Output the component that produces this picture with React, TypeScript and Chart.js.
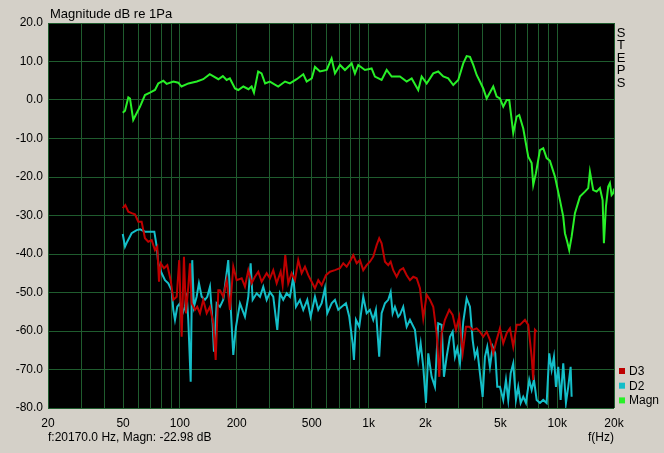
import { useEffect, useRef } from 'react';
import { Chart, registerables } from 'chart.js';

Chart.register(...registerables);

// ---------- data ----------
const GRID_FREQS = [20, 30, 40, 50, 60, 70, 80, 90, 100, 200, 300, 400, 500, 600, 700, 800, 900, 1000, 2000, 3000, 4000, 5000, 6000, 7000, 8000, 9000, 10000, 20000];
const X_LABELS: [number, string][] = [[20, '20'], [50, '50'], [100, '100'], [200, '200'], [500, '500'], [1000, '1k'], [2000, '2k'], [5000, '5k'], [10000, '10k'], [20000, '20k']];
const Y_TICKS = [-80, -70, -60, -50, -40, -30, -20, -10, 0, 10, 20];

const TITLE = 'Magnitude dB re 1Pa';
const STATUS = 'f:20170.0 Hz, Magn: -22.98 dB';
const X_UNIT = 'f(Hz)';
const SIDE_WORD = 'STEPS';
const SERIES_NAMES = ['D3', 'D2', 'Magn'];

// [frequency Hz, dB]
const MAGN: [number, number][] = [
  [49.8, -3.3], [51.2, -2.8], [53.3, 0.7], [54.4, 0.4], [56.6, -5.2], [57.8, -4.3], [61.5, -1.7], [65.3, 1.3], [69.4, 1.9], [73.8, 2.6],
  [76.8, 4.3], [81.7, 5.0], [85.1, 4.2], [92.3, 4.8], [98.1, 4.5], [102, 3.5], [111, 4.3], [123, 4.8], [133, 5.4], [144, 6.7],
  [150, 6.2], [160, 5.4], [169, 6.2], [177, 5.2], [184, 5.6], [196, 3.0], [204, 2.6], [217, 3.5], [231, 2.8], [240, 3.5],
  [247, 1.9], [260, 7.4], [271, 6.9], [283, 4.3], [300, 4.8], [332, 3.5], [361, 4.8], [383, 4.3], [416, 5.4], [451, 6.7],
  [470, 4.8], [500, 5.6], [520, 8.6], [553, 7.4], [600, 7.8], [637, 10.8], [664, 6.9], [706, 9.1], [750, 7.8], [814, 9.5],
  [847, 6.9], [882, 9.1], [957, 7.8], [1038, 8.2], [1081, 6.1], [1173, 5.2], [1248, 7.8], [1326, 6.1], [1467, 6.1], [1593, 4.8],
  [1693, 5.6], [1834, 2.6], [1912, 6.1], [2033, 4.3], [2203, 6.9], [2341, 7.4], [2489, 6.1], [2645, 5.6], [2812, 3.9], [2989, 5.2],
  [3177, 9.5], [3312, 11.4], [3448, 11.2], [3590, 9.1], [3742, 6.5], [3895, 4.8], [4055, 3.0], [4227, 0.4], [4582, 3.5], [4776, 0.9],
  [4972, 0.4], [5177, -1.7], [5396, 0], [5570, 0], [5848, -8.6], [6096, -4.3], [6292, -3.9], [6607, -7.4], [7023, -14.7], [7320, -16.4],
  [7465, -22.1], [7715, -19.0], [8100, -13.0], [8433, -12.5], [8791, -15.1], [9151, -15.8], [9727, -19.9], [10339, -26.0], [10764, -30.3], [10989, -34.6],
  [11303, -36.8], [11581, -39.0], [11925, -35.5], [12415, -29.4], [13196, -25.1], [14026, -23.8], [14603, -22.9], [14908, -18.6], [15521, -23.4], [16178, -23.8],
  [16843, -22.9], [17406, -26.0], [17685, -37.2], [18122, -27.7], [18635, -22.5], [19028, -21.6], [19427, -24.7], [19810, -24.2], [20000, -23.0],
];

const D3: [number, number][] = [
  [49.8, -28.1], [51.4, -27.3], [53.3, -29.0], [55.5, -29.4], [57.8, -29.7], [60.2, -31.6], [62.7, -31.6], [65.3, -35.9], [68.0, -36.8], [70.9, -36.4],
  [73.8, -39.0], [75.9, -38.1], [77.5, -47.2], [79.1, -42.4], [82.4, -43.7], [85.8, -42.9], [89.4, -46.8], [92.3, -51.9], [96.2, -51.1], [99.2, -41.6],
  [102.2, -61.5], [105.1, -40.7], [107.7, -55.4], [110.8, -48.5], [113.1, -42.4], [115.5, -52.8], [120.2, -54.5], [123.6, -53.7], [127.8, -55.4], [133.0, -51.9],
  [138.7, -55.4], [144.4, -53.7], [150.3, -58.0], [154.8, -67.5], [159.9, -49.4], [163.1, -49.4], [169.8, -51.1], [177.0, -46.8], [184.3, -54.5], [191.9, -43.3],
  [200.0, -46.8], [212.6, -46.3], [221.3, -48.5], [230.5, -44.2], [240.1, -47.6], [250, -45.9], [260.3, -44.6], [271.4, -47.2], [288.4, -45.0], [300.3, -46.3],
  [312.6, -44.2], [325.9, -47.6], [342.1, -44.6], [350.5, -48.1], [361.9, -40.3], [375.4, -47.6], [391.3, -45.0], [407.4, -46.8], [424.1, -41.6], [442.1, -45.0],
  [460.3, -43.3], [479.2, -45.5], [499.5, -47.2], [520, -48.9], [541.4, -46.8], [564.3, -48.1], [594.7, -45.5], [624.4, -44.6], [663.7, -44.2], [705.5, -43.7],
  [734.5, -42.4], [765.6, -43.3], [803.9, -41.6], [829.8, -40.3], [865, -42.4], [900.5, -41.6], [937.5, -44.2], [977.2, -42.9], [1017, -42.0], [1059, -40.7],
  [1104, -37.7], [1139, -35.9], [1173, -37.2], [1222, -42.0], [1272, -42.9], [1310, -42.0], [1352, -44.2], [1409, -45.9], [1467, -44.2], [1527, -43.7],
  [1593, -45.5], [1658, -46.8], [1726, -45.9], [1799, -46.3], [1873, -48.9], [1950, -56.7], [2033, -50.6], [2116, -51.9], [2203, -53.7], [2296, -60.6],
  [2371, -71.9], [2441, -60.6], [2541, -57.1], [2678, -54.5], [2791, -55.8], [2906, -59.7], [3026, -56.3], [3154, -65.8], [3284, -58.9], [3419, -58.9],
  [3563, -59.7], [3742, -59.3], [3895, -60.2], [4055, -61.5], [4227, -60.2], [4401, -62.3], [4582, -65.8], [4776, -62.3], [4972, -59.3], [5177, -63.2],
  [5396, -60.6], [5617, -59.3], [5848, -64.1], [6096, -58.4], [6346, -58.4], [6746, -57.1], [7023, -58.4], [7320, -66.7], [7465, -72.7], [7621, -59.7],
  [7781, -60.2],
];

const D2: [number, number][] = [
  [49.8, -34.8], [51.2, -38.1], [52.6, -36.8], [55.5, -34.6], [59.0, -33.8], [61.5, -33.6], [65.3, -34.2], [69.4, -34.2], [73.2, -34.2], [75.4, -38.1],
  [76.8, -42.4], [80.1, -45.0], [83.4, -46.8], [86.8, -47.6], [90.5, -49.4], [92.3, -54.5], [94.2, -57.1], [96.9, -53.7], [100.1, -52.8], [103.4, -55.4],
  [106.4, -53.7], [108.6, -50.2], [110.8, -57.1], [114.1, -73.2], [116.3, -41.6], [118.7, -53.7], [122.7, -51.1], [126.2, -47.6], [130.5, -51.1], [135.8, -51.9],
  [139.7, -51.1], [144.4, -48.5], [149.2, -58.0], [151.6, -65.4], [156.7, -52.8], [163.1, -53.7], [169.8, -51.9], [180.5, -41.6], [185.9, -53.7], [191.9, -66.2],
  [198.3, -58.9], [208.2, -52.8], [221.3, -56.3], [230.5, -51.1], [237.2, -42.4], [243.1, -51.9], [255.3, -50.2], [265.8, -51.1], [276.7, -48.5], [288.4, -51.9],
  [300.3, -49.9], [312.6, -51.1], [328.3, -59.7], [339.2, -50.2], [353.1, -51.9], [368.2, -50.2], [383.3, -51.1], [399.1, -45.9], [412.4, -53.7], [433.0, -51.9],
  [450.8, -54.5], [473.5, -51.9], [493.4, -56.3], [520, -51.1], [541.4, -54.5], [564.3, -52.8], [587.5, -48.9], [604.3, -55.4], [637.5, -52.8], [663.7, -51.9],
  [691.0, -54.5], [720.3, -53.7], [759.1, -52.8], [790.3, -56.3], [823.6, -63.2], [836.9, -67.5], [857.6, -57.1], [892.8, -58.9], [937.5, -51.1], [977.2, -55.4],
  [1017, -54.5], [1059, -57.1], [1094, -54.5], [1139, -66.7], [1173, -55.4], [1222, -52.8], [1272, -51.9], [1310, -49.9], [1342, -55.4], [1380, -53.7],
  [1437, -56.3], [1467, -55.8], [1527, -53.7], [1593, -58.9], [1658, -57.1], [1762, -59.7], [1834, -67.5], [1889, -63.2], [1950, -69.3], [2015, -78.7],
  [2073, -65.8], [2160, -71.9], [2249, -74.5], [2341, -58.0], [2441, -58.4], [2510, -71.9], [2594, -66.7], [2701, -61.5], [2791, -60.2], [2871, -66.7],
  [2953, -64.5], [3052, -68.4], [3177, -57.6], [3312, -51.5], [3448, -53.7], [3563, -62.3], [3665, -66.7], [3770, -64.9], [3895, -71.0], [4025, -77.1],
  [4140, -66.7], [4258, -64.1], [4401, -69.3], [4548, -64.1], [4695, -65.8], [4812, -74.5], [4972, -74.5], [5177, -77.9], [5350, -72.7], [5502, -77.9],
  [5665, -71.0], [5848, -68.4], [6044, -77.9], [6216, -74.5], [6401, -78.7], [6607, -77.1], [6829, -78.7], [7110, -72.7], [7320, -75.3], [7528, -72.7],
  [7781, -77.9], [8100, -78.7], [8433, -77.9], [8791, -78.7], [9073, -65.8], [9343, -70.1], [9609, -66.7], [9847, -74.5], [10127, -69.3], [10428, -77.9],
  [10764, -68.4], [11124, -78.7], [11441, -74.5], [11780, -69.3], [11925, -77.1],
];

// ---------- styles ----------
const BG = '#D4D0C8';
const PLOT_BG = '#000000';
const GRID = '#1f5c2e';
const C_MAGN = 'rgb(40,240,40)';
const C_D3 = 'rgb(190,0,0)';
const C_D2 = 'rgb(20,190,200)';
const FONT = '"Liberation Sans", Arial, sans-serif';

const toPts = (arr: [number, number][]) => arr.map(([x, y]) => ({ x, y }));

const extras = {
  id: 'extras',
  beforeDraw(chart: any) {
    const { ctx, chartArea: a } = chart;
    ctx.save();
    ctx.fillStyle = BG;
    ctx.fillRect(0, 0, chart.width, chart.height);
    ctx.fillStyle = PLOT_BG;
    ctx.fillRect(a.left, a.top, a.right - a.left, a.bottom - a.top);
    ctx.restore();
  },
  afterDraw(chart: any) {
    const { ctx, chartArea: a } = chart;
    ctx.save();
    ctx.fillStyle = '#000';
    ctx.textAlign = 'left';
    ctx.textBaseline = 'alphabetic';
    ctx.font = `13px ${FONT}`;
    ctx.fillText(TITLE, a.left + 2, 18);

    // vertical word
    ctx.textAlign = 'center';
    const letters = SIDE_WORD.split('');
    letters.forEach((ch, i) => ctx.fillText(ch, a.right + 7, 36.5 + i * 12.5));

    // status + unit
    ctx.font = `12px ${FONT}`;
    ctx.textAlign = 'left';
    ctx.fillText(STATUS, a.left, 441);
    ctx.textBaseline = 'middle';
    ctx.fillText(X_UNIT, 588, 438);

    // legend
    const cols = [C_D3, C_D2, C_MAGN];
    SERIES_NAMES.forEach((name, i) => {
      const cy = 371 + i * 14.7;
      ctx.fillStyle = cols[i];
      ctx.fillRect(a.right + 5, cy - 3, 6, 6);
      ctx.fillStyle = '#000';
      ctx.fillText(name, a.right + 15, cy + 0.5);
    });
    ctx.restore();
  },
};

export default function App() {
  const ref = useRef<HTMLCanvasElement | null>(null);
  useEffect(() => {
    if (!ref.current) return;
    const labelMap = new Map(X_LABELS);
    const chart = new Chart(ref.current, {
      type: 'line',
      data: {
        datasets: [
          { label: 'Magn', data: toPts(MAGN), borderColor: C_MAGN, borderWidth: 2, pointRadius: 0, tension: 0, order: 0 },
          { label: 'D3', data: toPts(D3), borderColor: C_D3, borderWidth: 2, pointRadius: 0, tension: 0, order: 1 },
          { label: 'D2', data: toPts(D2), borderColor: C_D2, borderWidth: 2, pointRadius: 0, tension: 0, order: 2 },
        ],
      },
      options: {
        responsive: false,
        animation: false,
        devicePixelRatio: 1,
        layout: { padding: { top: 23, right: 50, left: 0, bottom: 0 } },
        plugins: { legend: { display: false }, tooltip: { enabled: false } },
        scales: {
          x: {
            type: 'logarithmic',
            min: 20,
            max: 20000,
            border: { display: false },
            grid: { color: GRID, lineWidth: 1, drawTicks: false },
            afterBuildTicks: (scale: any) => {
              scale.ticks = GRID_FREQS.map((v) => ({ value: v }));
            },
            afterFit: (scale: any) => {
              scale.height = 45;
            },
            ticks: {
              autoSkip: false,
              maxRotation: 0,
              minRotation: 0,
              padding: 8,
              color: '#000',
              font: { family: FONT, size: 12 },
              callback: (v: any) => labelMap.get(Number(v)) ?? '',
            },
          },
          y: {
            type: 'linear',
            min: -80,
            max: 20,
            border: { display: false },
            grid: { color: GRID, lineWidth: 1, drawTicks: false },
            afterBuildTicks: (scale: any) => {
              scale.ticks = Y_TICKS.map((v) => ({ value: v }));
            },
            afterFit: (scale: any) => {
              scale.width = 48;
            },
            ticks: {
              padding: 5,
              color: '#000',
              font: { family: FONT, size: 12 },
              callback: (v: any) => Number(v).toFixed(1),
            },
          },
        },
      },
      plugins: [extras],
    } as any);
    return () => chart.destroy();
  }, []);

  return (
    <div style={{ position: 'fixed', left: 0, top: 0, width: 664, height: 453, background: BG }}>
      <canvas ref={ref} width={664} height={453} style={{ display: 'block', width: 664, height: 453 }} />
    </div>
  );
}
